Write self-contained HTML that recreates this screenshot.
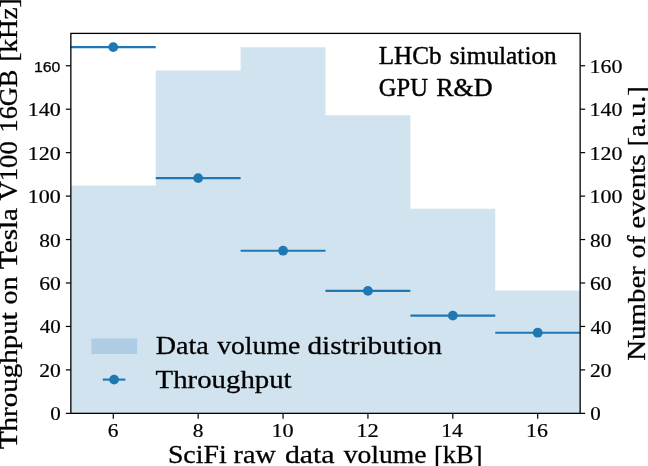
<!DOCTYPE html>
<html><head><meta charset="utf-8"><title>chart</title>
<style>html,body{margin:0;padding:0;background:#fff;overflow:hidden}svg{display:block;will-change:transform;opacity:0.999;filter:blur(0.3px)}.s{font-family:"Liberation Serif",serif;fill:#000}.t{stroke:#000;stroke-width:0.25}.n{font-family:"Liberation Sans",sans-serif;fill:#000}</style>
</head><body>
<svg width="648" height="466" viewBox="0 0 648 466">
<rect x="0" y="0" width="648" height="466" fill="#fff"/>
<polygon fill="#d2e3f0" points="70.85,413.35 70.85,185.50 155.73,185.50 155.73,70.60 240.62,70.60 240.62,47.30 325.50,47.30 325.50,115.20 410.38,115.20 410.38,208.70 495.27,208.70 495.27,290.50 580.15,290.50 580.15,413.35"/>
<rect x="91.4" y="338.5" width="45.7" height="15.5" fill="#aecde4"/>
<line x1="70.85" y1="47.10" x2="155.73" y2="47.10" stroke="#1f77b4" stroke-width="2.1"/>
<circle cx="113.29" cy="47.10" r="4.9" fill="#1f77b4"/>
<line x1="155.73" y1="178.10" x2="240.62" y2="178.10" stroke="#1f77b4" stroke-width="2.1"/>
<circle cx="198.17" cy="178.10" r="4.9" fill="#1f77b4"/>
<line x1="240.62" y1="250.70" x2="325.50" y2="250.70" stroke="#1f77b4" stroke-width="2.1"/>
<circle cx="283.06" cy="250.70" r="4.9" fill="#1f77b4"/>
<line x1="325.50" y1="290.90" x2="410.38" y2="290.90" stroke="#1f77b4" stroke-width="2.1"/>
<circle cx="367.94" cy="290.90" r="4.9" fill="#1f77b4"/>
<line x1="410.38" y1="315.60" x2="495.27" y2="315.60" stroke="#1f77b4" stroke-width="2.1"/>
<circle cx="452.82" cy="315.60" r="4.9" fill="#1f77b4"/>
<line x1="495.27" y1="332.70" x2="580.15" y2="332.70" stroke="#1f77b4" stroke-width="2.1"/>
<circle cx="537.71" cy="332.70" r="4.9" fill="#1f77b4"/>
<line x1="102.8" y1="379.6" x2="125.4" y2="379.6" stroke="#1f77b4" stroke-width="2.1"/>
<circle cx="114.1" cy="379.6" r="4.9" fill="#1f77b4"/>
<rect x="70.85" y="33.40" width="509.30" height="379.95" fill="none" stroke="#000" stroke-width="1.3"/>
<line x1="65.85" y1="413.35" x2="70.85" y2="413.35" stroke="#000" stroke-width="1.2"/>
<line x1="580.15" y1="413.35" x2="585.15" y2="413.35" stroke="#000" stroke-width="1.2"/>
<line x1="65.85" y1="369.90" x2="70.85" y2="369.90" stroke="#000" stroke-width="1.2"/>
<line x1="580.15" y1="369.90" x2="585.15" y2="369.90" stroke="#000" stroke-width="1.2"/>
<line x1="65.85" y1="326.45" x2="70.85" y2="326.45" stroke="#000" stroke-width="1.2"/>
<line x1="580.15" y1="326.45" x2="585.15" y2="326.45" stroke="#000" stroke-width="1.2"/>
<line x1="65.85" y1="283.00" x2="70.85" y2="283.00" stroke="#000" stroke-width="1.2"/>
<line x1="580.15" y1="283.00" x2="585.15" y2="283.00" stroke="#000" stroke-width="1.2"/>
<line x1="65.85" y1="239.55" x2="70.85" y2="239.55" stroke="#000" stroke-width="1.2"/>
<line x1="580.15" y1="239.55" x2="585.15" y2="239.55" stroke="#000" stroke-width="1.2"/>
<line x1="65.85" y1="196.10" x2="70.85" y2="196.10" stroke="#000" stroke-width="1.2"/>
<line x1="580.15" y1="196.10" x2="585.15" y2="196.10" stroke="#000" stroke-width="1.2"/>
<line x1="65.85" y1="152.65" x2="70.85" y2="152.65" stroke="#000" stroke-width="1.2"/>
<line x1="580.15" y1="152.65" x2="585.15" y2="152.65" stroke="#000" stroke-width="1.2"/>
<line x1="65.85" y1="109.20" x2="70.85" y2="109.20" stroke="#000" stroke-width="1.2"/>
<line x1="580.15" y1="109.20" x2="585.15" y2="109.20" stroke="#000" stroke-width="1.2"/>
<line x1="65.85" y1="65.75" x2="70.85" y2="65.75" stroke="#000" stroke-width="1.2"/>
<line x1="580.15" y1="65.75" x2="585.15" y2="65.75" stroke="#000" stroke-width="1.2"/>
<line x1="113.29" y1="413.35" x2="113.29" y2="418.75" stroke="#000" stroke-width="1.2"/>
<line x1="198.17" y1="413.35" x2="198.17" y2="418.75" stroke="#000" stroke-width="1.2"/>
<line x1="283.06" y1="413.35" x2="283.06" y2="418.75" stroke="#000" stroke-width="1.2"/>
<line x1="367.94" y1="413.35" x2="367.94" y2="418.75" stroke="#000" stroke-width="1.2"/>
<line x1="452.82" y1="413.35" x2="452.82" y2="418.75" stroke="#000" stroke-width="1.2"/>
<line x1="537.71" y1="413.35" x2="537.71" y2="418.75" stroke="#000" stroke-width="1.2"/>
<text class="n" x="60.3" y="71.7" font-size="14" text-anchor="end" textLength="26.4" lengthAdjust="spacingAndGlyphs" stroke="#000" stroke-width="0.25">160</text>
<text class="s" transform="translate(167.89,462.80) scale(1.1417,1)" font-size="24.4" stroke="#000" stroke-width="0.28">SciFi</text>
<text class="s" transform="translate(233.57,462.80) scale(1.1531,1)" font-size="24.4" stroke="#000" stroke-width="0.28">raw</text>
<text class="s" transform="translate(284.88,462.80) scale(1.2252,1)" font-size="24.4" stroke="#000" stroke-width="0.28">data</text>
<text class="s" transform="translate(343.64,462.80) scale(1.1318,1)" font-size="24.4" stroke="#000" stroke-width="0.28">volume</text>
<text class="s" transform="translate(434.04,462.80) scale(1.0828,1)" font-size="24.4" stroke="#000" stroke-width="0.28">[kB]</text>
<text class="s" transform="translate(155.78,353.90) scale(1.1514,1)" font-size="24.4" stroke="#000" stroke-width="0.28">Data</text>
<text class="s" transform="translate(217.14,353.90) scale(1.1360,1)" font-size="24.4" stroke="#000" stroke-width="0.28">volume</text>
<text class="s" transform="translate(307.50,353.90) scale(1.1982,1)" font-size="24.4" stroke="#000" stroke-width="0.28">distribution</text>
<text class="s" transform="translate(155.60,387.50) scale(1.1809,1)" font-size="24.4" stroke="#000" stroke-width="0.28">Throughput</text>
<text class="s" transform="translate(378.72,64.20) scale(0.9663,1)" font-size="26.0" stroke="#000" stroke-width="0.45">LHCb</text>
<text class="s" transform="translate(449.75,64.20) scale(0.9756,1)" font-size="26.0" stroke="#000" stroke-width="0.45">simulation</text>
<text class="s" transform="translate(378.77,96.30) scale(0.9455,1)" font-size="26.0" stroke="#000" stroke-width="0.45">GPU</text>
<text class="s" transform="translate(436.20,96.30) scale(1.0018,1)" font-size="26.0" stroke="#000" stroke-width="0.45">R&amp;D</text>
<text class="s" transform="translate(17.30,449.10) rotate(-90) scale(1.1887,1)" font-size="24.4" stroke="#000" stroke-width="0.28">Throughput</text>
<text class="s" transform="translate(17.30,304.46) rotate(-90) scale(1.1465,1)" font-size="24.4" stroke="#000" stroke-width="0.28">on</text>
<text class="s" transform="translate(17.30,268.90) rotate(-90) scale(1.1921,1)" font-size="24.4" stroke="#000" stroke-width="0.28">Tesla</text>
<text class="s" transform="translate(17.30,200.54) rotate(-90) scale(1.0948,1)" font-size="24.4" stroke="#000" stroke-width="0.28">V100</text>
<text class="s" transform="translate(17.30,132.45) rotate(-90) scale(1.0769,1)" font-size="24.4" stroke="#000" stroke-width="0.28">16GB</text>
<text class="s" transform="translate(17.30,61.61) rotate(-90) scale(1.1114,1)" font-size="24.4" stroke="#000" stroke-width="0.28">[kHz]</text>
<text class="s" transform="translate(645.40,360.84) rotate(-90) scale(1.1849,1)" font-size="24.4" stroke="#000" stroke-width="0.28">Number</text>
<text class="s" transform="translate(645.40,258.13) rotate(-90) scale(1.1089,1)" font-size="24.4" stroke="#000" stroke-width="0.28">of</text>
<text class="s" transform="translate(645.40,228.74) rotate(-90) scale(1.1934,1)" font-size="24.4" stroke="#000" stroke-width="0.28">events</text>
<text class="s" transform="translate(645.40,146.51) rotate(-90) scale(1.1740,1)" font-size="24.4" stroke="#000" stroke-width="0.28">[a.u.]</text>
<text class="s" transform="translate(590.23,420.45) scale(1.0667,1)" font-size="19.7" stroke="#000" stroke-width="0.20">0</text>
<text class="s" transform="translate(589.88,377.00) scale(1.0959,1)" font-size="19.7" stroke="#000" stroke-width="0.20">20</text>
<text class="s" transform="translate(590.43,333.55) scale(1.0667,1)" font-size="19.7" stroke="#000" stroke-width="0.20">40</text>
<text class="s" transform="translate(589.88,290.10) scale(1.0959,1)" font-size="19.7" stroke="#000" stroke-width="0.20">60</text>
<text class="s" transform="translate(590.02,246.65) scale(1.0884,1)" font-size="19.7" stroke="#000" stroke-width="0.20">80</text>
<text class="s" transform="translate(589.49,203.20) scale(1.1119,1)" font-size="19.7" stroke="#000" stroke-width="0.20">100</text>
<text class="s" transform="translate(589.49,159.75) scale(1.1119,1)" font-size="19.7" stroke="#000" stroke-width="0.20">120</text>
<text class="s" transform="translate(589.49,116.30) scale(1.1119,1)" font-size="19.7" stroke="#000" stroke-width="0.20">140</text>
<text class="s" transform="translate(589.49,72.85) scale(1.1119,1)" font-size="19.7" stroke="#000" stroke-width="0.20">160</text>
<text class="s" transform="translate(50.13,420.35) scale(1.0667,1)" font-size="19.7" stroke="#000" stroke-width="0.20">0</text>
<text class="s" transform="translate(39.18,376.90) scale(1.0959,1)" font-size="19.7" stroke="#000" stroke-width="0.20">20</text>
<text class="s" transform="translate(39.73,333.45) scale(1.0667,1)" font-size="19.7" stroke="#000" stroke-width="0.20">40</text>
<text class="s" transform="translate(39.18,290.00) scale(1.0959,1)" font-size="19.7" stroke="#000" stroke-width="0.20">60</text>
<text class="s" transform="translate(39.32,246.55) scale(1.0884,1)" font-size="19.7" stroke="#000" stroke-width="0.20">80</text>
<text class="s" transform="translate(27.78,203.10) scale(1.1193,1)" font-size="19.7" stroke="#000" stroke-width="0.20">100</text>
<text class="s" transform="translate(27.78,159.65) scale(1.1193,1)" font-size="19.7" stroke="#000" stroke-width="0.20">120</text>
<text class="s" transform="translate(27.78,116.20) scale(1.1193,1)" font-size="19.7" stroke="#000" stroke-width="0.20">140</text>
<text class="s" transform="translate(107.77,436.60) scale(1.0899,1)" font-size="19.7" stroke="#000" stroke-width="0.20">6</text>
<text class="s" transform="translate(192.79,436.60) scale(1.0899,1)" font-size="19.7" stroke="#000" stroke-width="0.20">8</text>
<text class="s" transform="translate(271.43,436.60) scale(1.1281,1)" font-size="19.7" stroke="#000" stroke-width="0.20">10</text>
<text class="s" transform="translate(356.28,436.60) scale(1.1445,1)" font-size="19.7" stroke="#000" stroke-width="0.20">12</text>
<text class="s" transform="translate(441.24,436.60) scale(1.0965,1)" font-size="19.7" stroke="#000" stroke-width="0.20">14</text>
<text class="s" transform="translate(526.10,436.60) scale(1.1121,1)" font-size="19.7" stroke="#000" stroke-width="0.20">16</text>
</svg></body></html>
